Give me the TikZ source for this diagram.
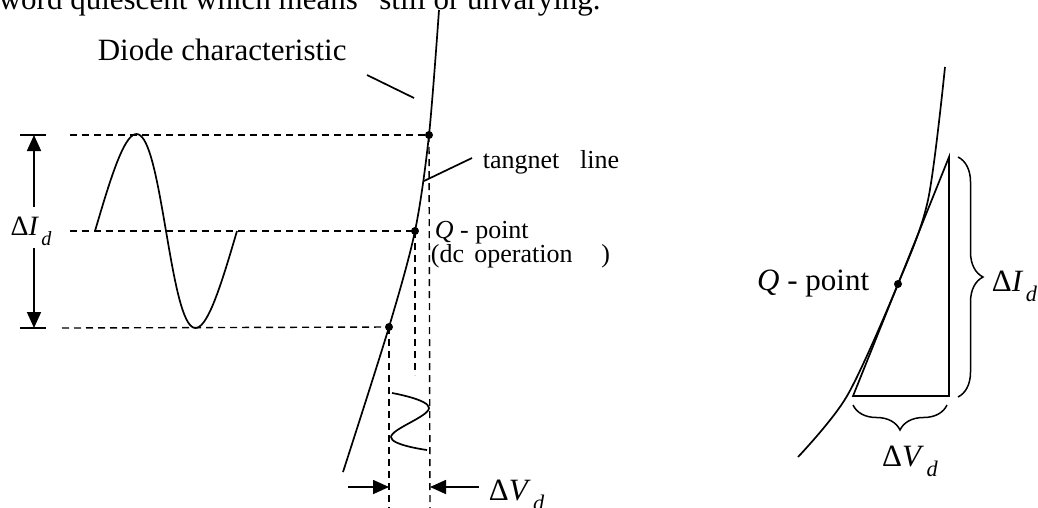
\documentclass[tikz,border=0pt]{standalone}
\usepackage{fontspec}
\setmainfont{Liberation Serif}
\usetikzlibrary{arrows.meta,decorations.pathreplacing,positioning}

\newcommand{\dsub}[2]{Δ\textit{#1}\hspace{0.08em}\raisebox{-0.35em}{\scalebox{0.72}{\textit{#2}}}}

\begin{document}
\begin{tikzpicture}[x=1pt, y=-1pt, line width=1.7pt,
    guide/.style={line width=1.4pt, dash pattern=on 7pt off 5pt},
    dotnode/.style={circle, fill, inner sep=0pt, minimum size=8pt},
    arr/.style={-{Triangle[length=16pt,width=14pt]}},
    lbl/.style={inner sep=0pt, font=\fontsize{26}{30}\selectfont},
    big/.style={inner sep=0pt, font=\fontsize{31}{36}\selectfont},
    curlybrace/.style={decorate, line width=1.5pt, decoration={brace, amplitude=25pt}}]
  \useasboundingbox (0,0) rectangle (1038,507);

  % running text of the page, cut at the top
  \node[big, anchor=base west] (run) at (-2,9) {word quiescent which means “still or unvarying.};

  % left: characteristic and its working points
  \draw plot[smooth] coordinates {(343,472) (389,327) (415,231) (429,135) (439,10)};
  \node[dotnode] (Ptop) at (429,135) {};
  \node[dotnode] (Q) at (415,231) {};
  \node[dotnode] (Pbot) at (389,327) {};

  \node[big, anchor=base west] (diode) at (97,60) {Diode characteristic};
  \coordinate (diodeA) at (367,75);
  \coordinate (diodeB) at (414,98);
  \draw (diodeA) -- (diodeB);

  \node[lbl, anchor=base west] (tang) at (482,168) {tangnet\hspace{0.8em}line};
  \coordinate (tangA) at (472,158);
  \coordinate (tangB) at (424,181);
  \draw (tangA) -- (tangB);

  \node[lbl, anchor=base west] (Qlbl) at (434,238) {\textit{Q} - point};
  \node[lbl, anchor=base west] (dcop) at (430,262) {(dc\hspace{0.4em}operation\hspace{1.1em})};

  % current swing
  \draw plot[domain=0:360, samples=73] ({95+\x/360*142+6*sin(\x)},{231-97*sin(\x)});

  \coordinate (Ltop) at (70,135);
  \coordinate (Lmid) at (70,231);
  \coordinate (Lbot) at (62,328);
  \draw[guide] (Ltop) -- (Ptop.center);
  \draw[guide] (Lmid) -- (Q.center);
  \draw[guide] (Lbot) -- (Pbot.center);

  \node[font=\fontsize{28}{32}\selectfont, inner sep=0pt] (dIl) at (31,231) {\dsub{I}{d}};
  \coordinate (Itop) at (34,135);
  \coordinate (Ibot) at (34,328);
  \coordinate (Igap1) at (34,207);
  \coordinate (Igap2) at (34,248);
  \draw[arr] (Igap1) -- (Itop);
  \draw[arr] (Igap2) -- (Ibot);
  \coordinate (tickA) at (20,135);
  \coordinate (tickB) at (46,135);
  \coordinate (tickC) at (20,328);
  \coordinate (tickD) at (46,328);
  \draw (tickA) -- (tickB);
  \draw (tickC) -- (tickD);

  % voltage swing
  \coordinate (Qfoot) at (415,375);
  \coordinate (Tfoot) at (430,512);
  \coordinate (Bfoot) at (389,512);
  \draw[guide] (Q.center) -- (Qfoot);
  \draw[guide] (Ptop.center) -- (Tfoot);
  \draw[guide] (Pbot.center) -- (Bfoot);
  \draw plot[smooth, tension=0.7] coordinates {(392,393) (429,408) (391,437) (427,450)};

  \coordinate (VinL) at (348,487);
  \coordinate (VinR) at (479,487);
  \draw[arr] (VinL) -- (Bfoot |- VinL);
  \draw[arr] (VinR) -- (Tfoot |- VinR);
  \node[big, anchor=base west] (dVl) at (488,500) {\dsub{V}{d}};

  % right: tangent at the Q-point
  \draw plot[smooth] coordinates {(798,457) (847,396) (898,284) (928,200) (945,67)};
  \node[dotnode] (Qr) at (898,284) {};
  \node[big, anchor=base east] (Qrlbl) at (870,290) {\textit{Q} - point};

  \coordinate (Ta) at (853,396);
  \coordinate (Tb) at (949,157);
  \coordinate (Tc) at (949,396);
  \draw (Ta) -- (Tb) -- (Tc) -- cycle;

  \coordinate (Ba) at (958,157);
  \coordinate (Bb) at (958,397);
  \draw[curlybrace] (Ba) -- (Bb);
  \node[big, anchor=base west] (dIr) at (991,291) {\dsub{I}{d}};

  \coordinate (Bc) at (947,405);
  \coordinate (Bd) at (853,405);
  \draw[curlybrace] (Bc) -- (Bd);
  \node[big, anchor=base] (dVr) at (910,466) {\dsub{V}{d}};
\end{tikzpicture}
\end{document}
